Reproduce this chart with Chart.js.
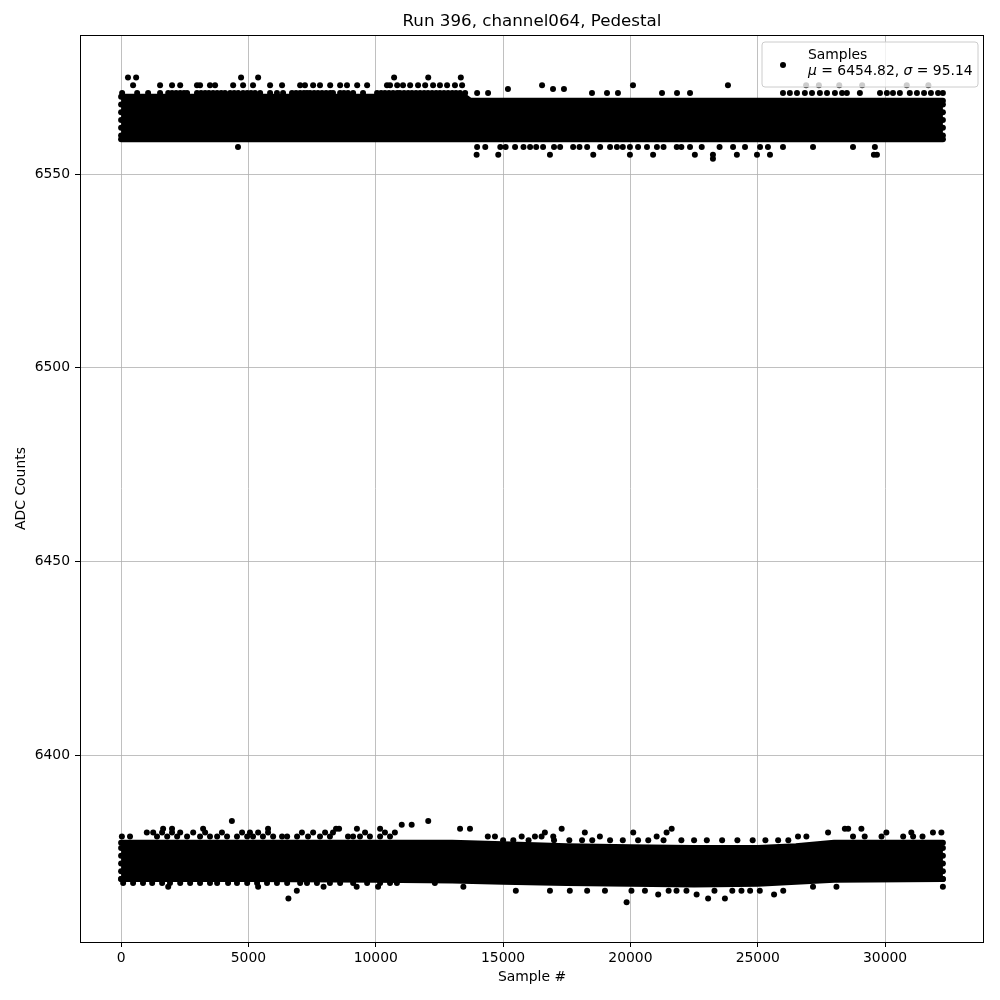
<!DOCTYPE html>
<html><head><meta charset="utf-8">
<script src="https://cdn.jsdelivr.net/npm/chart.js@4.4.1/dist/chart.umd.min.js"></script>
<style>html,body{margin:0;padding:0;background:#fff}canvas{display:block}</style>
</head><body>
<canvas id="c" width="1000" height="1000"></canvas>
<script>
const chartTitle = 'Run 396, channel064, Pedestal';
const xLabel = 'Sample #';
const yLabel = 'ADC Counts';
const seriesLabel = 'Samples';
const meanValue = 6454.82;
const sigmaValue = 95.14;
const xTicks = [0, 5000, 10000, 15000, 20000, 25000, 30000];
const yTicks = [6400, 6450, 6500, 6550];
const xLimits = [-1614, 33884];
const yLimits = [6351.75, 6585.95];

// dense core of the upper band (ADC counts of the outermost sample rows)
const topCoreX    = [0, 4000, 8000, 12000, 13500, 13700, 16000, 20000, 24000, 28000, 32270];
const topCoreHigh = [6570, 6570, 6570, 6570, 6570, 6569, 6569, 6569, 6569, 6569, 6569];
const topCoreLow  = [6559, 6559, 6559, 6559, 6559, 6559, 6559, 6559, 6559, 6559, 6559];

// dense core of the lower band
const botCoreX    = [0, 5000, 10000, 13000, 15000, 17500, 20000, 22500, 25000, 26500, 28000, 32270];
const botCoreHigh = [6377.4, 6377.4, 6377.4, 6377.4, 6377, 6376.5, 6376.2, 6376, 6376, 6376.5, 6377.4, 6377.4];
const botCoreLow  = [6368, 6368, 6367.8, 6367.6, 6367.3, 6367, 6366.8, 6366.6, 6366.8, 6367.3, 6367.8, 6368];

// individual samples outside the dense cores, upper band [sample, ADC]
const topSamples = [
 [0,6560],[0,6562],[0,6564],[0,6566],[0,6568],[32270,6560],[32270,6562],[32270,6564],[32270,6566],[32270,6568],
 [40,6571],[630,6571],[1060,6571],[1530,6571],[1850,6571],[2000,6571],[2160,6571],[2320,6571],[2470,6571],[2590,6571],
 [2980,6571],[3140,6571],[3300,6571],[3450,6571],[3610,6571],[3770,6571],[3930,6571],[4080,6571],[4280,6571],[4440,6571],
 [4600,6571],[4790,6571],[4950,6571],[5100,6571],[5260,6571],[5460,6571],[5850,6571],[6120,6571],[6360,6571],[6710,6571],
 [6870,6571],[7030,6571],[7180,6571],[7300,6571],[7420,6571],[7580,6571],[7730,6571],[7890,6571],[8050,6571],[8210,6571],
 [8320,6571],[8600,6571],[8750,6571],[8910,6571],[9110,6571],[9500,6571],[10050,6571],[10210,6571],[10360,6571],[10520,6571],
 [10680,6571],[10840,6571],[10950,6571],[11110,6571],[11270,6571],[11420,6571],[11580,6571],[11740,6571],[11900,6571],[12050,6571],
 [12210,6571],[12370,6571],[12520,6571],[12680,6571],[12840,6571],[13000,6571],[13150,6571],[13310,6571],[13510,6571],[13980,6571],
 [14410,6571],[18490,6571],[19080,6571],[19510,6571],[21240,6571],[21830,6571],[22340,6571],[25990,6571],[26260,6571],[26540,6571],
 [26850,6571],[27130,6571],[27440,6571],[27720,6571],[28030,6571],[28310,6571],[28500,6571],[29010,6571],[29800,6571],[30070,6571],
 [30310,6571],[30580,6571],[30970,6571],[31250,6571],[31530,6571],[31800,6571],[32080,6571],[32270,6571],
 [470,6573],[1530,6573],[2000,6573],[2320,6573],[2980,6573],[3100,6573],[3490,6573],[3690,6573],[4400,6573],[4790,6573],
 [5180,6573],[5850,6573],[6320,6573],[7030,6573],[7220,6573],[7540,6573],[7810,6573],[8210,6573],[8600,6573],[8870,6573],
 [9270,6573],[9660,6573],[10440,6573],[10560,6573],[10840,6573],[11070,6573],[11350,6573],[11660,6573],[11940,6573],[12250,6573],
 [12520,6573],[12800,6573],[13110,6573],[13390,6573],[15190,6572],[16530,6573],[16960,6572],[17390,6572],[20100,6573],[23830,6573],
 [26900,6573],[27400,6573],[28200,6573],[29100,6573],[30850,6573],[31700,6573],
 [270,6575],[590,6575],[4710,6575],[5380,6575],[10720,6575],[12060,6575],[13340,6575],
 [4590,6557],[13980,6557],[14300,6557],[14890,6557],[15100,6557],[15470,6557],[15800,6557],[16060,6557],[16300,6557],[16570,6557],
 [17000,6557],[17240,6557],[17750,6557],[18000,6557],[18300,6557],[18810,6557],[19200,6557],[19470,6557],[19700,6557],[19980,6557],
 [20300,6557],[20650,6557],[21040,6557],[21300,6557],[21820,6557],[22000,6557],[22340,6557],[22800,6557],[23500,6557],[24030,6557],
 [24500,6557],[25090,6557],[25400,6557],[25990,6557],[27170,6557],[28740,6557],[29600,6557],
 [13960,6555],[14810,6555],[16840,6555],[18540,6555],[19980,6555],[20890,6555],[22530,6555],[23240,6555],[24180,6555],[24970,6555],
 [25480,6555],[29560,6555],[29680,6555],[23240,6554]
];

// individual samples outside the dense cores, lower band [sample, ADC]
const botSamples = [
 [0,6368],[0,6370],[0,6372],[0,6374],[0,6376],[32270,6368],[32270,6370],[32270,6372],[32270,6374],[32270,6376],
 [30,6379],[350,6379],[1010,6380],[1260,6380],[1410,6379],[1610,6380],[1810,6379],[2000,6380],[2200,6379],[2320,6380],
 [2590,6379],[2830,6380],[3100,6379],[3300,6380],[3490,6379],[3770,6379],[3960,6380],[4160,6379],[4350,6383],[4550,6379],
 [4750,6380],[4950,6379],[5060,6380],[5180,6379],[5380,6380],[5570,6379],[5770,6380],[5970,6379],[6320,6379],[6520,6379],
 [6910,6379],[7100,6380],[7340,6379],[7540,6380],[7810,6379],[8010,6380],[8200,6379],[8320,6380],[8910,6379],[9110,6379],
 [9380,6379],[9580,6380],[9770,6379],[10170,6379],[10360,6380],[10560,6379],[10750,6380],
 [1650,6381],[2000,6381],[3220,6381],[5770,6381],[8440,6381],[8560,6381],[9260,6381],[10170,6381],
 [11020,6382],[11410,6382],[12060,6383],[13310,6381],[13700,6381],[14400,6379],[14680,6379],[15730,6379],[16250,6379],[16510,6379],
 [16640,6380],[16970,6379],[17300,6381],[18210,6380],[18800,6379],[20110,6380],[21030,6379],[21420,6380],[21620,6381],[26580,6379],
 [26910,6379],[27760,6380],[28420,6381],[28550,6381],[28740,6379],[29070,6381],[29200,6379],[29860,6379],[30050,6380],[30710,6379],
 [31030,6380],[31100,6379],[31470,6379],[31880,6380],[32210,6380],
 [15000,6378],[15400,6378],[16000,6378],[17000,6378],[17600,6378],[18100,6378],[18500,6378],[19200,6378],[19700,6378],[20300,6378],
 [20700,6378],[21300,6378],[22000,6378],[22500,6378],[23000,6378],[23600,6378],[24200,6378],[24800,6378],[25300,6378],[25800,6378],[26200,6378],
 [80,6367],[470,6367],[860,6367],[1220,6367],[1610,6367],[1920,6367],[2320,6367],[2710,6367],[3100,6367],[3490,6367],
 [3770,6367],[4200,6367],[4550,6367],[4950,6367],[5340,6367],[5730,6367],[6120,6367],[6520,6367],[7030,6367],[7300,6367],
 [7690,6367],[8200,6367],[8600,6367],[9110,6367],[9660,6367],[10170,6367],[10560,6367],[10830,6367],
 [6570,6363],[6900,6365],[1850,6366],[5380,6366],[7950,6366],[9250,6366],[10090,6366],
 [12320,6367],[13440,6366],[16840,6365],[17620,6365],[19850,6362],[20040,6365],[20570,6365],[21090,6364],[21810,6365],[22200,6365],
 [22600,6364],[23050,6363],[23710,6363],[24360,6365],[25080,6365],[25640,6364],[27170,6366],[28090,6366],[32270,6366],
 [15500,6365],[18300,6365],[19000,6365],[21500,6365],[23300,6365],[24000,6365],[24700,6365],[26000,6365]
];

const FONT = 'DejaVu Sans';
const toPts = (xs, ys) => xs.map((x, i) => ({x: x, y: ys[i]}));
const toXY = arr => arr.map(p => ({x: p[0], y: p[1]}));

const coreStyle = {
  type: 'scatter', showLine: true, pointRadius: 0, borderWidth: 6, borderColor: '#000',
  backgroundColor: '#000', tension: 0, borderJoinStyle: 'round', borderCapStyle: 'round'
};

const decorPlugin = {
  id: 'decor',
  afterDraw(chart) {
    const ctx = chart.ctx, a = chart.chartArea;
    ctx.save();
    // frame
    ctx.strokeStyle = '#000'; ctx.lineWidth = 1;
    ctx.strokeRect(Math.round(a.left) + 0.5, Math.round(a.top) + 0.5,
                   Math.round(a.right - a.left) - 1, Math.round(a.bottom - a.top));
    // title
    ctx.fillStyle = '#000';
    ctx.font = '16.7px "' + FONT + '"';
    ctx.textAlign = 'center'; ctx.textBaseline = 'alphabetic';
    ctx.fillText(chartTitle, (a.left + a.right) / 2, 26);
    // legend
    const bx = a.right - 222, by = a.top + 7, bw = 216, bh = 45, r = 3;
    ctx.beginPath();
    ctx.moveTo(bx + r, by); ctx.lineTo(bx + bw - r, by); ctx.arcTo(bx + bw, by, bx + bw, by + r, r);
    ctx.lineTo(bx + bw, by + bh - r); ctx.arcTo(bx + bw, by + bh, bx + bw - r, by + bh, r);
    ctx.lineTo(bx + r, by + bh); ctx.arcTo(bx, by + bh, bx, by + bh - r, r);
    ctx.lineTo(bx, by + r); ctx.arcTo(bx, by, bx + r, by, r); ctx.closePath();
    ctx.fillStyle = 'rgba(255,255,255,0.8)'; ctx.fill();
    ctx.strokeStyle = '#cccccc'; ctx.lineWidth = 1; ctx.stroke();
    ctx.fillStyle = '#000';
    ctx.beginPath(); ctx.arc(bx + 21, by + 23, 3, 0, Math.PI * 2); ctx.fill();
    ctx.textAlign = 'left'; ctx.textBaseline = 'alphabetic';
    const tx = bx + 46;
    ctx.font = '13.9px "' + FONT + '"';
    ctx.fillText(seriesLabel, tx, by + 16.5);
    const parts = [
      ['italic', '\u03bc'], ['normal', ' = ' + meanValue.toFixed(2) + ', '],
      ['italic', '\u03c3'], ['normal', ' = ' + sigmaValue.toFixed(2)]
    ];
    let cx = tx;
    parts.forEach(p => {
      ctx.font = (p[0] === 'italic' ? 'italic ' : '') + '13.9px "' + FONT + '"';
      ctx.fillText(p[1], cx, by + 33);
      cx += ctx.measureText(p[1]).width;
    });
    ctx.restore();
  }
};

const tickFont = {family: FONT, size: 13.9};
new Chart(document.getElementById('c'), {
  type: 'scatter',
  data: {
    datasets: [
      Object.assign({}, coreStyle, {data: toPts(topCoreX, topCoreLow), fill: false}),
      Object.assign({}, coreStyle, {data: toPts(topCoreX, topCoreHigh), fill: '-1'}),
      Object.assign({}, coreStyle, {data: toPts(botCoreX, botCoreLow), fill: false}),
      Object.assign({}, coreStyle, {data: toPts(botCoreX, botCoreHigh), fill: '-1'}),
      {type: 'scatter', label: seriesLabel, data: toXY(topSamples.concat(botSamples)), pointRadius: 3,
       pointBackgroundColor: '#000', pointBorderWidth: 0, showLine: false}
    ]
  },
  options: {
    responsive: false, animation: false, devicePixelRatio: 1, events: [],
    layout: {padding: {top: 35, right: 16, left: 0, bottom: 0}},
    plugins: {legend: {display: false}, tooltip: {enabled: false}, title: {display: false}},
    scales: {
      x: {
        type: 'linear', min: xLimits[0], max: xLimits[1],
        afterBuildTicks: s => { s.ticks = xTicks.map(v => ({value: v})); },
        afterFit: s => { s.height = 58; },
        ticks: {font: tickFont, color: '#000', padding: 3, maxRotation: 0, autoSkip: false, callback: v => String(v)},
        grid: {color: '#b0b0b0', lineWidth: 0.8, tickColor: '#000', tickLength: 5, tickWidth: 1, drawTicks: true},
        border: {display: false},
        title: {display: true, text: xLabel, color: '#000', font: {family: FONT, size: 13.9, lineHeight: 1.2}, padding: {top: 0, bottom: 14.7}}
      },
      y: {
        type: 'linear', min: yLimits[0], max: yLimits[1],
        afterBuildTicks: s => { s.ticks = yTicks.map(v => ({value: v})); },
        afterFit: s => { s.width = 80; },
        ticks: {font: tickFont, color: '#000', padding: 5, autoSkip: false, callback: v => String(v)},
        grid: {color: '#b0b0b0', lineWidth: 0.8, tickColor: '#000', tickLength: 5, tickWidth: 1, drawTicks: true},
        border: {display: false},
        title: {display: true, text: yLabel, color: '#000', font: {family: FONT, size: 13.9, lineHeight: 1.2}, padding: {top: 12.7, bottom: 0}}
      }
    }
  },
  plugins: [decorPlugin]
});
</script>
</body></html>
